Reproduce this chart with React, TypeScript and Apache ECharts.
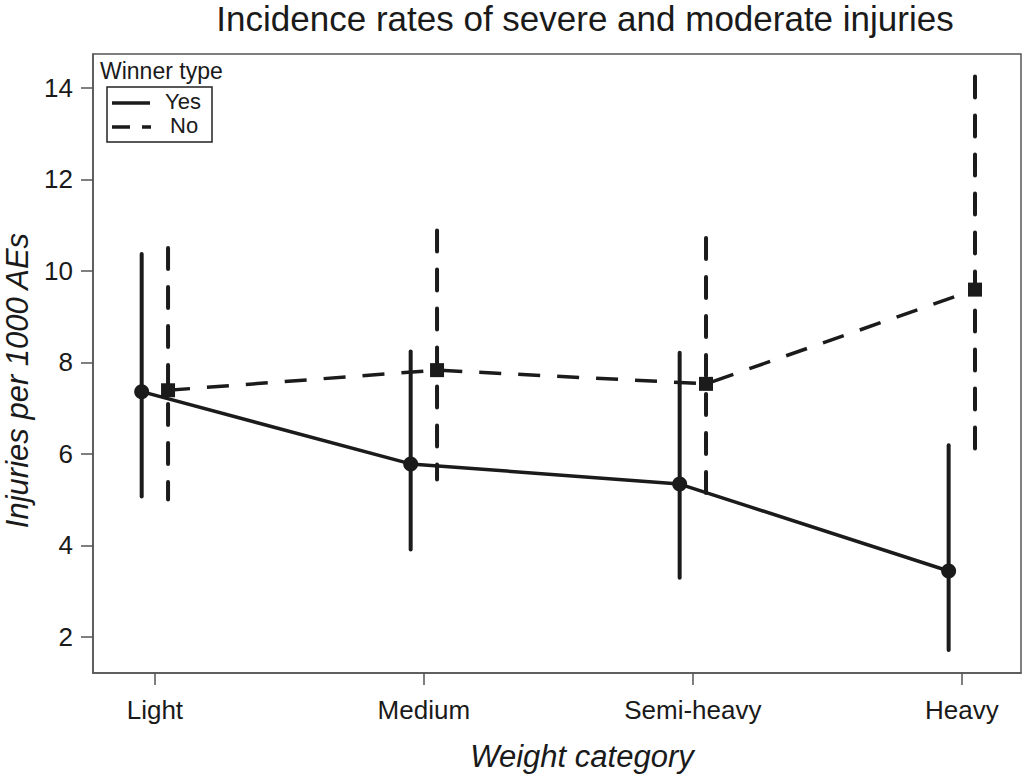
import React, { useEffect, useRef } from "react";
import * as echarts from "echarts";

const categories = ["Light", "Medium", "Semi-heavy", "Heavy"];
const yesRate = [7.36, 5.78, 5.34, 3.44];
const yesLow = [5.07, 3.91, 3.29, 1.71];
const yesHigh = [10.37, 8.24, 8.21, 6.19];
const noRate = [7.39, 7.83, 7.53, 9.59];
const noLow = [5.0, 5.44, 5.0, 6.1];
const noHigh = [10.5, 10.88, 10.72, 14.25];
const yTicks = [2, 4, 6, 8, 10, 12, 14];
const catIndex = [0, 1, 2, 3];

const OFFSET = 0.049;
const INK = "#1b1b1b";
const FONT = "'Liberation Sans', Arial, Helvetica, sans-serif";

export default function App() {
  const ref = useRef<HTMLDivElement>(null);
  useEffect(() => {
    if (!ref.current) return;
    const chart = echarts.init(ref.current, undefined, { renderer: "svg" });
    const yesPts = yesRate.map((v, i) => [i - OFFSET, v]);
    const noPts = noRate.map((v, i) => [i + OFFSET, v]);
    const yesBars = yesRate.map((_, i) => [i - OFFSET, yesLow[i], yesHigh[i]]);
    const noBars = noRate.map((_, i) => [i + OFFSET, noLow[i], noHigh[i]]);
    const barRender = (dash: number[] | null) => (params: any, api: any) => {
      const x = api.value(0);
      const p1 = api.coord([x, api.value(2)]);
      const p2 = api.coord([x, api.value(1)]);
      return {
        type: "line",
        shape: { x1: p1[0], y1: p1[1], x2: p2[0], y2: p2[1] },
        style: { stroke: INK, lineWidth: 4, lineDash: dash || undefined, lineCap: "round" },
      };
    };
    chart.setOption({
      animation: false,
      backgroundColor: "#ffffff",
      textStyle: { fontFamily: FONT },
      title: {
        text: "Incidence rates of severe and moderate injuries",
        left: 585,
        textAlign: "center",
        top: 1,
        padding: 0,
        textStyle: { fontFamily: FONT, fontSize: 35, fontWeight: "normal", color: "#1a1a1a" },
      },
      grid: {
        left: 93,
        right: 3,
        top: 54,
        bottom: 103,
        outerBoundsMode: "none",
        containLabel: false,
        show: true,
        borderColor: "#555",
        borderWidth: 1.5,
        backgroundColor: "transparent",
      },
      xAxis: {
        type: "value",
        min: -0.23,
        max: 3.22,
        name: "Weight category",
        nameLocation: "middle",
        nameGap: 68,
        nameTextStyle: {
          fontFamily: FONT,
          fontSize: 31,
          fontStyle: "italic",
          color: "#1a1a1a",
          padding: [0, 0, 0, 50],
        },
        axisLine: { show: true, onZero: false, lineStyle: { color: "#555", width: 1.5 } },
        axisTick: { show: true, customValues: catIndex, length: 12, lineStyle: { color: "#555", width: 1.5 } },
        axisLabel: {
          customValues: catIndex,
          formatter: (v: number) => categories[Math.round(v)] ?? "",
          margin: 24,
          fontSize: 26,
          color: "#1a1a1a",
          fontFamily: FONT,
        },
        splitLine: { show: false },
      },
      yAxis: {
        type: "value",
        min: 1.21,
        max: 14.74,
        name: "Injuries per 1000 AEs",
        nameLocation: "middle",
        nameGap: 58,
        nameTextStyle: {
          fontFamily: FONT,
          fontSize: 31,
          fontStyle: "italic",
          color: "#1a1a1a",
          padding: [0, 34, 0, 0],
        },
        axisLine: { show: true, onZero: false, lineStyle: { color: "#555", width: 1.5 } },
        axisTick: { show: true, customValues: yTicks, length: 12, lineStyle: { color: "#555", width: 1.5 } },
        axisLabel: {
          customValues: yTicks,
          margin: 20,
          fontSize: 26,
          color: "#1a1a1a",
          fontFamily: FONT,
        },
        splitLine: { show: false },
      },
      graphic: [
        {
          type: "text",
          left: 100,
          top: 59,
          style: { text: "Winner type", font: `23px ${FONT}`, fill: "#1a1a1a" },
        },
        {
          type: "rect",
          shape: { x: 107, y: 87, width: 105, height: 55 },
          style: { fill: "#fff", stroke: "#222", lineWidth: 1.5 },
        },
        {
          type: "line",
          shape: { x1: 112, y1: 103, x2: 150, y2: 103 },
          style: { stroke: INK, lineWidth: 3.5 },
        },
        {
          type: "line",
          shape: { x1: 112, y1: 127, x2: 151, y2: 127 },
          style: { stroke: INK, lineWidth: 3.5, lineDash: [18, 12] },
        },
        {
          type: "text",
          left: 165,
          top: 90,
          style: { text: "Yes", font: `22px ${FONT}`, fill: "#1a1a1a" },
        },
        {
          type: "text",
          left: 170,
          top: 114,
          style: { text: "No", font: `22px ${FONT}`, fill: "#1a1a1a" },
        },
      ],
      series: [
        {
          type: "custom",
          name: "Yes CI",
          z: 1,
          data: yesBars,
          renderItem: barRender(null),
          encode: { x: 0, y: [1, 2] },
          silent: true,
        },
        {
          type: "custom",
          name: "No CI",
          z: 1,
          data: noBars,
          renderItem: barRender([21, 18]),
          encode: { x: 0, y: [1, 2] },
          silent: true,
        },
        {
          type: "line",
          name: "Yes",
          z: 3,
          data: yesPts,
          symbol: "circle",
          symbolSize: 15,
          itemStyle: { color: INK },
          lineStyle: { color: INK, width: 3.5 },
        },
        {
          type: "line",
          name: "No",
          z: 3,
          data: noPts,
          symbol: "rect",
          symbolSize: 14,
          itemStyle: { color: INK },
          lineStyle: { color: INK, width: 3.5, type: [22, 17] },
        },
      ],
    });
    return () => chart.dispose();
  }, []);
  return (
    <div
      ref={ref}
      style={{ position: "fixed", left: 0, top: 0, width: 1024, height: 776, background: "#fff" }}
    />
  );
}
